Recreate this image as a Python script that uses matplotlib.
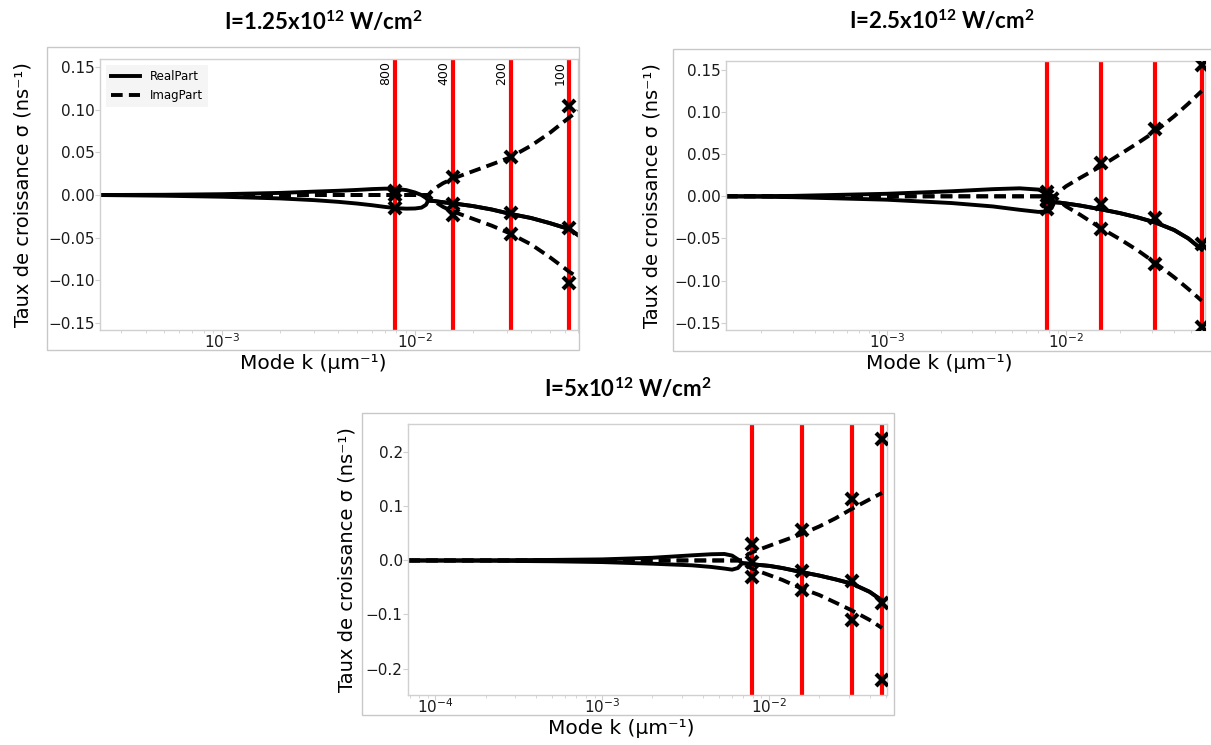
import matplotlib
matplotlib.use("Agg")
import matplotlib.pyplot as plt
from matplotlib.lines import Line2D
from matplotlib.patches import Rectangle
from matplotlib.ticker import MultipleLocator, FuncFormatter
import matplotlib.transforms as mtransforms

plt.rcParams["mathtext.fontset"] = "custom"
plt.rcParams["mathtext.rm"] = "Lato"
plt.rcParams["mathtext.bf"] = "Lato:bold"
plt.rcParams["mathtext.it"] = "Lato:italic"

# ---------------- data ----------------
# Panel 1 : I = 1.25e12 W/cm^2
k_p1 = [2.33e-4, 5e-4, 1e-3, 2e-3, 3e-3, 4e-3, 5e-3, 6e-3, 7e-3, 8e-3, 9e-3,
        1.0e-2, 1.08e-2, 1.14e-2, 1.17e-2, 1.25e-2, 1.4e-2, 1.6e-2, 2.0e-2,
        2.5e-2, 3.1e-2, 4.0e-2, 5.0e-2, 6.3e-2, 7.0e-2]
real_up_p1 = [0.0, 0.0003, 0.001, 0.0025, 0.004, 0.005, 0.006, 0.007, 0.0075, 0.0072, 0.0058,
              0.003, 0.0, -0.0035, -0.0065, -0.007, -0.0085, -0.010, -0.013,
              -0.017, -0.022, -0.027, -0.033, -0.040, -0.047]
real_lo_p1 = [0.0, -0.0008, -0.002, -0.004, -0.006, -0.008, -0.010, -0.012, -0.014, -0.0155, -0.016,
              -0.0158, -0.0148, -0.0115, -0.0065, -0.007, -0.0085, -0.010, -0.013,
              -0.017, -0.022, -0.027, -0.033, -0.040, -0.047]
imag_pos_p1 = [0.0, 0.0, 0.0, 0.0, 0.0, 0.0, 0.0, 0.0, 0.0, 0.0, 0.0,
               0.0, 0.0, 0.0, 0.0, 0.007, 0.014, 0.020, 0.028,
               0.036, 0.044, 0.058, 0.073, 0.091, 0.099]
imag_neg_p1 = [0.0, 0.0, 0.0, 0.0, 0.0, 0.0, 0.0, 0.0, 0.0, 0.0, 0.0,
               0.0, 0.0, 0.0, 0.0, -0.007, -0.014, -0.020, -0.028,
               -0.036, -0.045, -0.058, -0.073, -0.090, -0.097]
lines_p1 = [0.00785, 0.0157, 0.0314, 0.0628]
line_labels_p1 = ["800", "400", "200", "100"]
crosses_p1 = [[0.005, 0.0, -0.015], [0.0213, -0.010, -0.024],
              [0.0452, -0.0217, -0.0453], [0.1043, -0.039, -0.1032]]

# Panel 2 : I = 2.5e12 W/cm^2
k_p2 = [1.27e-4, 3e-4, 1e-3, 2.3e-3, 3.9e-3, 5.5e-3, 7.0e-3, 7.8e-3, 8.3e-3, 8.6e-3,
        9.2e-3, 1.0e-2, 1.2e-2, 1.57e-2, 2.0e-2, 2.5e-2, 3.14e-2, 4.0e-2, 4.8e-2, 5.7e-2]
real_up_p2 = [0.0, 0.0005, 0.003, 0.006, 0.0085, 0.0095, 0.008, 0.004, -0.002, -0.007,
              -0.0075, -0.0085, -0.011, -0.0155, -0.020, -0.025, -0.031, -0.040, -0.050, -0.063]
real_lo_p2 = [0.0, -0.001, -0.004, -0.008, -0.012, -0.016, -0.0185, -0.018, -0.014, -0.007,
              -0.0075, -0.0085, -0.011, -0.0155, -0.020, -0.025, -0.031, -0.040, -0.050, -0.063]
imag_pos_p2 = [0.0, 0.0, 0.0, 0.0, 0.0, 0.0, 0.0, 0.0, 0.0, 0.0,
               0.006, 0.012, 0.022, 0.036, 0.050, 0.063, 0.077, 0.095, 0.110, 0.125]
imag_neg_p2 = [0.0, 0.0, 0.0, 0.0, 0.0, 0.0, 0.0, 0.0, 0.0, 0.0,
               -0.006, -0.012, -0.022, -0.038, -0.051, -0.064, -0.079, -0.096, -0.110, -0.124]
lines_p2 = [0.00785, 0.0157, 0.0314, 0.057]
crosses_p2 = [[0.005, -0.006, -0.015, 0.0], [0.0392, -0.0095, -0.0392],
              [0.0796, -0.0254, -0.080], [0.156, -0.057, -0.155]]

# Panel 3 : I = 5e12 W/cm^2
k_p3 = [6.88e-5, 2e-4, 5e-4, 1e-3, 2e-3, 3.45e-3, 4.5e-3, 5.4e-3, 6.0e-3, 6.5e-3, 6.9e-3,
        7.5e-3, 8.5e-3, 1.0e-2, 1.2e-2, 1.57e-2, 2.0e-2, 2.5e-2, 3.14e-2, 4.0e-2, 4.75e-2]
real_up_p3 = [0.0, 0.0003, 0.001, 0.002, 0.005, 0.0095, 0.0115, 0.012, 0.009, 0.002, -0.005,
              -0.006, -0.008, -0.010, -0.014, -0.0216, -0.028, -0.035, -0.043, -0.058, -0.074]
real_lo_p3 = [0.0, -0.0005, -0.0015, -0.003, -0.006, -0.009, -0.012, -0.015, -0.017, -0.014, -0.005,
              -0.006, -0.008, -0.010, -0.014, -0.0216, -0.028, -0.035, -0.043, -0.058, -0.074]
imag_pos_p3 = [0.0, 0.0, 0.0, 0.0, 0.0, 0.0, 0.0, 0.0, 0.0, 0.0, 0.0,
               0.012, 0.019, 0.027, 0.036, 0.049, 0.063, 0.078, 0.0957, 0.113, 0.125]
imag_neg_p3 = [0.0, 0.0, 0.0, 0.0, 0.0, 0.0, 0.0, 0.0, 0.0, 0.0, 0.0,
               -0.012, -0.019, -0.027, -0.036, -0.052, -0.064, -0.078, -0.0926, -0.110, -0.125]
lines_p3 = [0.00785, 0.0157, 0.0314, 0.0475]
crosses_p3 = [[0.031, -0.003, -0.031], [0.0556, -0.0204, -0.0543],
              [0.113, -0.0389, -0.111], [0.224, -0.079, -0.222]]

titles = [r"I=1.25x10$^{\mathbf{12}}$ W/cm$^{\mathbf{2}}$",
          r"I=2.5x10$^{\mathbf{12}}$ W/cm$^{\mathbf{2}}$",
          r"I=5x10$^{\mathbf{12}}$ W/cm$^{\mathbf{2}}$"]
xlabel_text = "Mode k (\u00b5m\u207b\u00b9)"
ylabel_text = "Taux de croissance \u03c3 (ns\u207b\u00b9)"
legend_labels = ["RealPart", "ImagPart"]

# ---------------- figure ----------------
W, H = 1211, 745
fig = plt.figure(figsize=(W / 100, H / 100), dpi=100)

SPINE = "#d0d0d0"
DASH = (0, (3.0, 1.6))
LW = 2.8


def px_rect(x0, y0, x1, y1):
    return [x0 / W, 1 - y1 / H, (x1 - x0) / W, (y1 - y0) / H]


def frame(x0, y0, x1, y1):
    r = Rectangle((x0 / W, 1 - y1 / H), (x1 - x0) / W, (y1 - y0) / H,
                  transform=fig.transFigure, fill=False, ec="#c8c8c8", lw=1.0, zorder=0)
    fig.patches.append(r)


def yfmt_factory(fmt):
    def f(v, pos):
        s = fmt % (0.0 if abs(v) < 1e-12 else v)
        return s.replace("-", "\u2212")
    return FuncFormatter(f)


def panel(axrect, k, ru, rl, ip, ineg, vlines, crosses, xlim, ylim, ystep, yfmt,
          ylabel_x, xlabel_y, labels=None, legend=False):
    ax = fig.add_axes(px_rect(*axrect))
    ax.set_xscale("log")
    for sp in ax.spines.values():
        sp.set_color(SPINE)
        sp.set_linewidth(1.0)
    for kv in vlines:
        ax.axvline(kv, color="red", lw=3.0, zorder=1.5)
    ax.plot(k, ru, color="k", lw=LW, zorder=2)
    ax.plot(k, rl, color="k", lw=LW, zorder=2)
    ax.plot(k, ip, color="k", lw=LW, ls=DASH, zorder=2)
    ax.plot(k, ineg, color="k", lw=LW, ls=DASH, zorder=2)
    for kv, ys in zip(vlines, crosses):
        ax.plot([kv] * len(ys), ys, ls="none", marker="x", color="k", ms=8, mew=3, zorder=4)
    ax.set_xlim(*xlim)
    ax.set_ylim(*ylim)
    ax.yaxis.set_major_locator(MultipleLocator(ystep))
    ax.yaxis.set_major_formatter(yfmt_factory(yfmt))
    ax.tick_params(axis="both", which="major", labelsize=11, color=SPINE, length=3.5, width=0.8,
                   labelcolor="#1a1a1a")
    ax.tick_params(axis="both", which="minor", color=SPINE, length=2, width=0.6)
    ax.tick_params(axis="x", which="major", pad=-1.5)
    ax.tick_params(axis="y", which="major", pad=0.5)
    ax.set_xlabel(xlabel_text, fontsize=14.5)
    ax.set_ylabel(ylabel_text, fontsize=14)
    ax.xaxis.set_label_coords(0.445, xlabel_y)
    ax.yaxis.set_label_coords(ylabel_x, 0.5)
    if labels:
        off = mtransforms.offset_copy(ax.get_xaxis_transform(), fig=fig, x=-2.5, y=-2, units="dots")
        for kv, lb in zip(vlines, labels):
            ax.text(kv, 1.0, lb, rotation=90, ha="right", va="top", fontsize=9, transform=off)
    if legend:
        handles = [Line2D([], [], color="k", lw=LW), Line2D([], [], color="k", lw=LW, ls=DASH)]
        leg = ax.legend(handles, legend_labels, loc="upper left", fontsize=8.5, handlelength=2.5,
                        frameon=True, fancybox=False, borderaxespad=0.5)
        leg.get_frame().set_facecolor("#f3f3f3")
        leg.get_frame().set_edgecolor("none")
    return ax


# screenshot frames
frame(47.3, 47.3, 579.3, 350)
frame(673.3, 49.3, 1220, 351)
frame(361.7, 413.3, 894.3, 715)

panel((100.3, 59.3, 578.3, 330), k_p1, real_up_p1, real_lo_p1, imag_pos_p1, imag_neg_p1,
      lines_p1, crosses_p1, (2.33e-4, 0.0703), (-0.1586, 0.1595), 0.05, "%.2f",
      -0.142, -0.088, labels=line_labels_p1, legend=True)
panel((726, 60.7, 1205.3, 330), k_p2, real_up_p2, real_lo_p2, imag_pos_p2, imag_neg_p2,
      lines_p2, crosses_p2, (1.27e-4, 0.0597), (-0.1587, 0.161), 0.05, "%.2f",
      -0.135, -0.088)
panel((408.3, 424.3, 887.3, 695), k_p3, real_up_p3, real_lo_p3, imag_pos_p3, imag_neg_p3,
      lines_p3, crosses_p3, (6.88e-5, 0.0511), (-0.249, 0.252), 0.1, "%.1f",
      -0.1086, -0.09)

title_pos = [(323, 22), (942, 21), (628, 389)]
for t, (tx, ty) in zip(titles, title_pos):
    fig.text(tx / W, 1 - ty / H, t, ha="center", va="center", fontsize=16,
             fontweight="bold", family=["Lato", "DejaVu Sans"])

fig.savefig("out.png", dpi=100)
